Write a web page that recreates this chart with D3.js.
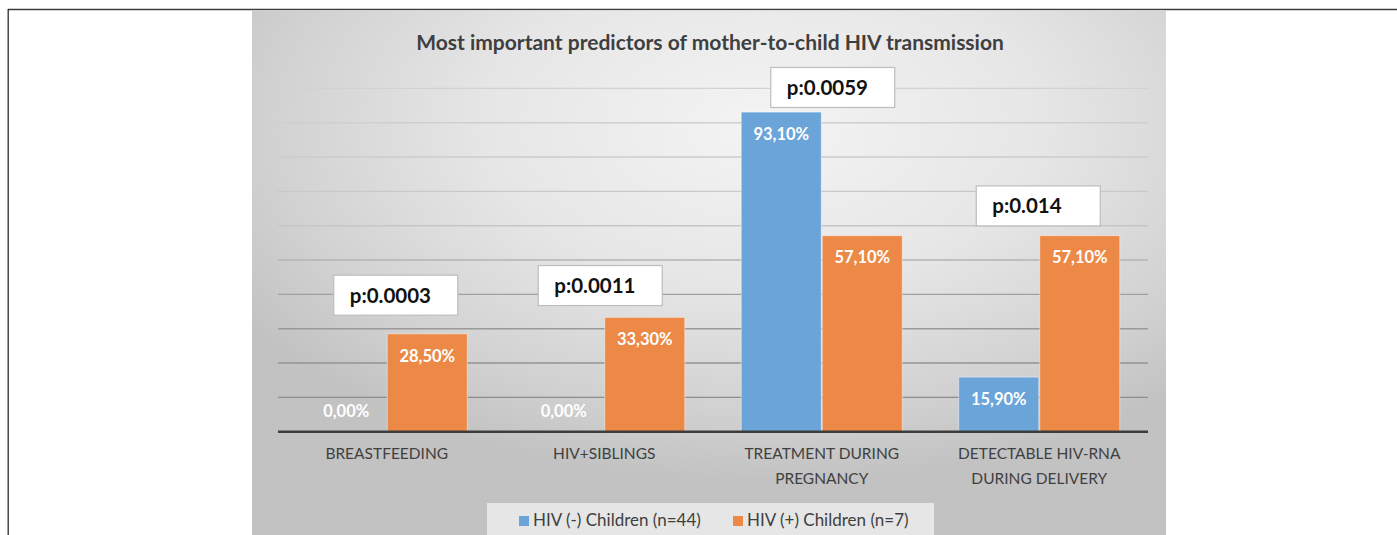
<!DOCTYPE html>
<html><head><meta charset="utf-8">
<script src="https://cdn.jsdelivr.net/npm/d3@7"></script>
<style>html,body{margin:0;padding:0;background:#fff;overflow:hidden}</style>
</head><body>
<svg id="c" width="1397" height="535"></svg>
<script>
const categories = [["BREASTFEEDING"],["HIV+SIBLINGS"],["TREATMENT DURING","PREGNANCY"],["DETECTABLE HIV-RNA","DURING DELIVERY"]];
const seriesNames = ["HIV (-) Children (n=44)","HIV (+) Children (n=7)"];
const hivNeg = [0.00, 0.00, 93.10, 15.90];
const hivPos = [28.50, 33.30, 57.10, 57.10];
const pValues = ["p:0.0003","p:0.0011","p:0.0059","p:0.014"];
const pBoxTopValue = [45.6, 48.4, 106.1, 71.6];
const yTicks = [0,10,20,30,40,50,60,70,80,90,100];
const title = "Most important predictors of mother-to-child HIV transmission";

const svg = d3.select("#c");
const FONT = "Lato, 'Open Sans', sans-serif";
const colors = ["#6BA4D9","#EC8946"];

const defs = svg.append("defs");
const bg = defs.append("radialGradient").attr("id","bg").attr("cx",0.56).attr("cy",0.22).attr("r",0.68).attr("fx",0.56).attr("fy",0.22);
bg.append("stop").attr("offset","0").attr("stop-color","#f4f4f4");
bg.append("stop").attr("offset","0.45").attr("stop-color","#e6e6e6");
bg.append("stop").attr("offset","0.8").attr("stop-color","#d1d1d1");
bg.append("stop").attr("offset","1").attr("stop-color","#c2c2c2");

const gl = defs.append("linearGradient").attr("id","gl").attr("gradientUnits","userSpaceOnUse")
  .attr("x1",0).attr("y1",88).attr("x2",0).attr("y2",400);
gl.append("stop").attr("offset","0").attr("stop-color","#d2d2d2");
gl.append("stop").attr("offset","0.45").attr("stop-color","#c6c6c6");
gl.append("stop").attr("offset","0.66").attr("stop-color","#a0a0a0");
gl.append("stop").attr("offset","1").attr("stop-color","#8c8c8c");

// outer frame
svg.append("line").attr("x1",8).attr("x2",1397).attr("y1",9.5).attr("y2",9.5).attr("stroke","#3c3c3c").attr("stroke-width",1.5);
svg.append("line").attr("x1",8.2).attr("x2",8.2).attr("y1",9).attr("y2",535).attr("stroke","#2a2a2a").attr("stroke-width",1.3);

// chart background
svg.append("rect").attr("x",252).attr("y",10.5).attr("width",914).attr("height",525).attr("fill","url(#bg)");

// title
svg.append("text").attr("x",710).attr("y",50).attr("text-anchor","middle")
  .attr("font-family",FONT).attr("font-weight","bold").attr("font-size",21).attr("fill","#3f3f3f").text(title);

const y = d3.scaleLinear().domain([0,100]).range([431.7, 88.4]);
const x0 = d3.scaleBand().domain(d3.range(categories.length)).range([278,1148]).padding(0);
const groupW = x0.bandwidth()*0.745;
const x1 = d3.scaleBand().domain([0,1]).range([0,groupW]).padding(0);

// gridlines
svg.append("g").selectAll("line").data(yTicks.filter(t=>t>0)).join("line")
  .attr("x1",278).attr("x2",1148).attr("y1",d=>y(d)).attr("y2",d=>y(d))
  .attr("stroke","url(#gl)").attr("stroke-width",1.4);

// bars
const series = [hivNeg, hivPos];
const groups = svg.append("g").selectAll("g").data(categories).join("g")
  .attr("transform",(d,i)=>`translate(${x0(i)+(x0.bandwidth()-groupW)/2},0)`);
groups.selectAll("rect").data((d,i)=>series.map((s,k)=>({k, v:s[i]}))).join("rect")
  .attr("x",d=>x1(d.k)+0.5).attr("width",x1.bandwidth()-1)
  .attr("y",d=>y(d.v)).attr("height",d=>y(0)-y(d.v))
  .attr("fill",d=>colors[d.k]).attr("stroke","rgba(255,255,255,0.45)").attr("stroke-width",1);
groups.selectAll("text.lab").data((d,i)=>series.map((s,k)=>({k, v:s[i]}))).join("text").attr("class","lab")
  .attr("x",d=>x1(d.k)+x1.bandwidth()/2)
  .attr("y",d=>Math.min(y(d.v)+22, y(0)-20))
  .attr("dy","0.35em").attr("text-anchor","middle")
  .attr("font-family",FONT).attr("font-weight","bold").attr("font-size",16.5).attr("fill","#ffffff")
  .text(d=>d3.format(".2f")(d.v).replace(".",",")+"%");

// axis baseline
svg.append("line").attr("x1",278).attr("x2",1148).attr("y1",y(0)).attr("y2",y(0)).attr("stroke","#3d3d3d").attr("stroke-width",2.4);

// category labels
const cl = svg.append("g").selectAll("text").data(categories).join("text")
  .attr("x",(d,i)=>x0(i)+x0.bandwidth()/2).attr("y",459)
  .attr("text-anchor","middle").attr("font-family",FONT).attr("font-size",15.5).attr("fill","#404040");
cl.selectAll("tspan").data(d=>d).join("tspan")
  .attr("x",function(){return this.parentNode.getAttribute("x");})
  .attr("dy",(d,j)=>j===0?0:25).text(d=>d);

// p-value boxes
const pShift = [-53,-66,-51,-63];
const pg = svg.append("g").selectAll("g").data(pValues).join("g")
  .attr("transform",(d,i)=>`translate(${x0(i)+x0.bandwidth()/2+pShift[i]},${y(pBoxTopValue[i])})`);
pg.append("rect").attr("width",124).attr("height",40).attr("fill","#ffffff").attr("stroke","#bdbdbd").attr("stroke-width",1.2);
pg.append("text").attr("x",16).attr("y",27.5).attr("font-family",FONT).attr("font-weight","bold")
  .attr("font-size",20.5).attr("fill","#111").text(d=>d);

// legend
const lg = svg.append("g");
lg.append("rect").attr("x",487).attr("y",503).attr("width",447).attr("height",40).attr("fill","#e6e6e6");
const items = lg.selectAll("g").data(seriesNames).join("g")
  .attr("transform",(d,i)=>`translate(${i===0?519:733},516)`);
items.append("rect").attr("width",10).attr("height",10).attr("fill",(d,i)=>colors[i]);
items.append("text").attr("x",14).attr("y",10).attr("font-family",FONT).attr("font-size",17).attr("fill","#404040").text(d=>d);
</script>
</body></html>
